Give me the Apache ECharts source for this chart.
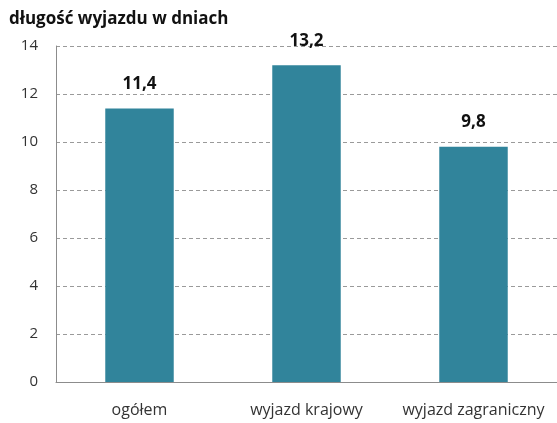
<!DOCTYPE html>
<html>
<head>
<meta charset="utf-8">
<script src="https://cdn.jsdelivr.net/npm/echarts@6/dist/echarts.min.js"></script>
<style>
    html, body { margin: 0; padding: 0; background: #fff; }
    #chart { width: 557px; height: 423px; }
</style>
</head>
<body>
<div id="chart"></div>
<script>
const categories = ['ogółem', 'wyjazd krajowy', 'wyjazd zagraniczny'];
const values = [11.4, 13.2, 9.8];

const chart = echarts.init(document.getElementById('chart'));

const option = {
    animation: false,
    title: {
        text: 'długość wyjazdu w dniach',
        left: 4,
        top: 6,
        textStyle: {
            fontFamily: 'Open Sans',
            fontSize: 17,
            fontWeight: 'bold',
            color: '#111'
        }
    },
    grid: {
        left: 56,
        right: 0,
        top: 46,
        bottom: 41
    },
    xAxis: {
        type: 'category',
        data: categories,
        axisLine: { lineStyle: { color: '#8c8c8c', width: 1 } },
        axisTick: { show: false },
        axisLabel: {
            interval: 0,
            margin: 20,
            fontFamily: 'Open Sans',
            fontSize: 16,
            color: '#333'
        }
    },
    yAxis: {
        type: 'value',
        min: 0,
        max: 14,
        interval: 2,
        axisLine: { show: true, lineStyle: { color: '#8c8c8c', width: 1 } },
        axisTick: { show: false },
        axisLabel: {
            margin: 18,
            fontFamily: 'Open Sans',
            fontSize: 15,
            color: '#333'
        },
        splitLine: {
            lineStyle: { color: '#9a9a9a', type: [4, 3], width: 1 }
        }
    },
    series: [
        {
            type: 'bar',
            data: values,
            barWidth: '41%',
            itemStyle: { color: '#31849b' },
            label: {
                show: true,
                position: 'top',
                distance: 16,
                formatter: p => String(p.value).replace('.', ','),
                fontFamily: 'Open Sans',
                fontSize: 17,
                fontWeight: 'bold',
                color: '#111'
            }
        }
    ]
};

chart.setOption(option);
</script>
</body>
</html>
